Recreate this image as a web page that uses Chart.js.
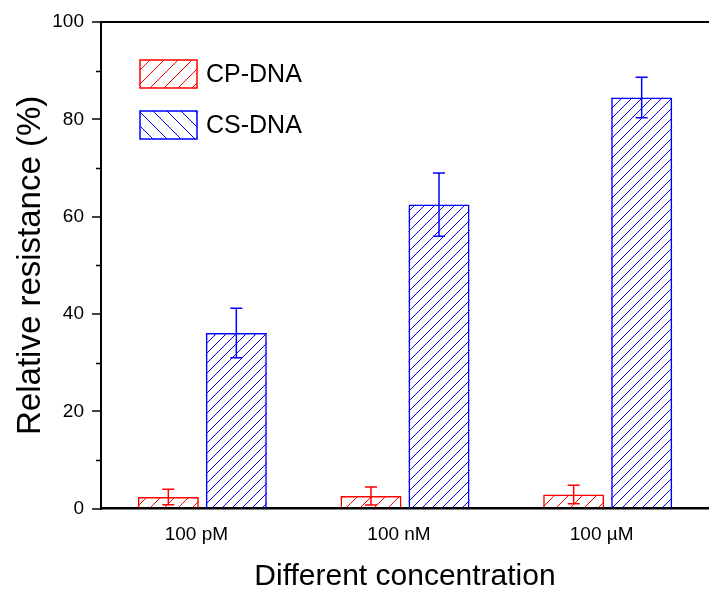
<!DOCTYPE html>
<html>
<head>
<meta charset="utf-8">
<script src="https://cdn.jsdelivr.net/npm/chart.js@4"></script>
<style>
  html, body { margin: 0; padding: 0; background: #fff; overflow: hidden; }
  #wrap { width: 709px; height: 590px; }
</style>
</head>
<body>
<div id="wrap"><canvas id="chart"></canvas></div>
<script>
/* data */
const categories  = ['100 pM', '100 nM', '100 µM'];
const seriesNames = ['CP-DNA', 'CS-DNA'];
const cpValues = [2.4, 2.6, 2.9];
const cpErrors = [1.6, 1.85, 1.9];
const csValues = [36.1, 62.5, 84.5];
const csErrors = [5.1, 6.5, 4.15];
const yMinorTicks = [10, 30, 50, 70, 90];

const RED  = '#ff0000';
const BLUE = '#0000ff';
const FONT = "Arial, 'Liberation Sans', sans-serif";

const errors     = [cpErrors, csErrors];
const barHatch   = [14, 10];   // line spacing inside the bars
const legendDir  = [1, -1];    // "/" and "\" in the legend keys

/* diagonal hatch lines clipped to a rectangle; dir 1 = "/", -1 = "\" */
function hatchRect(ctx, x0, y0, x1, y1, step, dir, color) {
  ctx.save();
  ctx.beginPath();
  ctx.rect(x0, y0, x1 - x0, y1 - y0);
  ctx.clip();
  ctx.strokeStyle = color;
  ctx.lineWidth = 1;
  ctx.beginPath();
  if (dir > 0) {
    const s0 = Math.floor((x0 + y0) / step) * step;
    for (let s = s0; s <= x1 + y1; s += step) {
      ctx.moveTo(s - y1, y1); ctx.lineTo(s - y0, y0);
    }
  } else {
    const s0 = Math.floor((x0 - y1) / step) * step;
    for (let s = s0; s <= x1 - y0; s += step) {
      ctx.moveTo(s + y0, y0); ctx.lineTo(s + y1, y1);
    }
  }
  ctx.stroke();
  ctx.restore();
}

/* ── hatch fill of bars ── */
const barFill = {
  id: 'barFill',
  beforeDatasetsDraw(chart) {
    const { ctx } = chart;
    chart.data.datasets.forEach((ds, i) => {
      chart.getDatasetMeta(i).data.forEach(bar => {
        const { x, y, base, width } = bar.getProps(['x', 'y', 'base', 'width'], true);
        hatchRect(ctx, x - width / 2, Math.min(y, base), x + width / 2, Math.max(y, base),
          barHatch[i], 1, ds.borderColor);
      });
    });
  },
};

/* ── error bars ── */
const errorBars = {
  id: 'errorBars',
  afterDatasetsDraw(chart) {
    const { ctx, scales: { y } } = chart;
    chart.data.datasets.forEach((ds, i) => {
      chart.getDatasetMeta(i).data.forEach((bar, j) => {
        const v = ds.data[j], e = errors[i][j];
        const top = y.getPixelForValue(v + e);
        const bot = y.getPixelForValue(v - e);
        ctx.save();
        ctx.strokeStyle = ds.borderColor;
        ctx.lineWidth = 1.5;
        ctx.beginPath();
        ctx.moveTo(bar.x, top); ctx.lineTo(bar.x, bot);
        ctx.moveTo(bar.x - 6, top); ctx.lineTo(bar.x + 6, top);
        ctx.moveTo(bar.x - 6, bot); ctx.lineTo(bar.x + 6, bot);
        ctx.stroke();
        ctx.restore();
      });
    });
  },
};

/* ── minor ticks on y ── */
const minorTicks = {
  id: 'minorTicks',
  afterDraw(chart) {
    const { ctx, chartArea, scales: { y } } = chart;
    ctx.save();
    ctx.strokeStyle = '#000';
    ctx.lineWidth = 1.5;
    ctx.beginPath();
    yMinorTicks.forEach(v => {
      const py = Math.round(y.getPixelForValue(v)) + 0.5;
      ctx.moveTo(chartArea.left - 5, py);
      ctx.lineTo(chartArea.left, py);
    });
    ctx.stroke();
    ctx.restore();
  },
};

/* ── legend boxes inside the plot ── */
const boxLegend = {
  id: 'boxLegend',
  afterDraw(chart) {
    const { ctx, chartArea } = chart;
    chart.data.datasets.forEach((ds, i) => {
      const x = chartArea.left + 39;
      const yTop = chartArea.top + 38 + i * 51;
      hatchRect(ctx, x, yTop, x + 57, yTop + 28, 14, legendDir[i], ds.borderColor);
      ctx.save();
      ctx.strokeStyle = ds.borderColor;
      ctx.lineWidth = 1.5;
      ctx.strokeRect(x, yTop, 57, 28);
      ctx.fillStyle = '#000';
      ctx.font = '25px ' + FONT;
      ctx.textBaseline = 'middle';
      ctx.fillText(ds.label, x + 66, yTop + 15);
      ctx.restore();
    });
  },
};

new Chart(document.getElementById('chart'), {
  type: 'bar',
  data: {
    labels: categories,
    datasets: [
      {
        label: seriesNames[0],
        data: cpValues,
        backgroundColor: 'rgba(0,0,0,0)',
        borderColor: RED,
        borderWidth: 1.5,
      },
      {
        label: seriesNames[1],
        data: csValues,
        backgroundColor: 'rgba(0,0,0,0)',
        borderColor: BLUE,
        borderWidth: 1.5,
      },
    ],
  },
  plugins: [barFill, errorBars, minorTicks, boxLegend],
  options: {
    responsive: true,
    maintainAspectRatio: false,
    animation: false,
    devicePixelRatio: 1,
    layout: { padding: { top: 22, right: 0, left: 0, bottom: 0 } },
    categoryPercentage: 0.671,
    barPercentage: 0.897,
    plugins: { legend: { display: false }, tooltip: { enabled: false } },
    scales: {
      x: {
        grid: { display: false },
        border: { color: '#000', width: 2.5 },
        ticks: { color: '#000', padding: 7, labelOffset: -6, font: { family: FONT, size: 19 } },
        title: {
          display: true,
          text: 'Different concentration',
          color: '#000',
          padding: 0,
          font: { family: FONT, size: 30, lineHeight: 0.9 },
        },
        afterFit: s => { s.height = 81.3; },
      },
      y: {
        min: 0,
        max: 100,
        grid: {
          color: c => (c.tick && c.tick.value === 100 ? '#000' : 'rgba(0,0,0,0)'),
          lineWidth: 2,
          tickColor: '#000',
          tickWidth: 1.5,
          tickLength: 9,
        },
        border: { color: '#000', width: 2 },
        ticks: { stepSize: 20, color: '#000', padding: 8, font: { family: FONT, size: 19 } },
        title: {
          display: true,
          text: 'Relative resistance (%)',
          color: '#000',
          padding: { top: 14, bottom: 0 },
          font: { family: FONT, size: 33, lineHeight: 1 },
        },
        afterFit: s => { s.width = 101; },
      },
    },
  },
});
</script>
</body>
</html>
